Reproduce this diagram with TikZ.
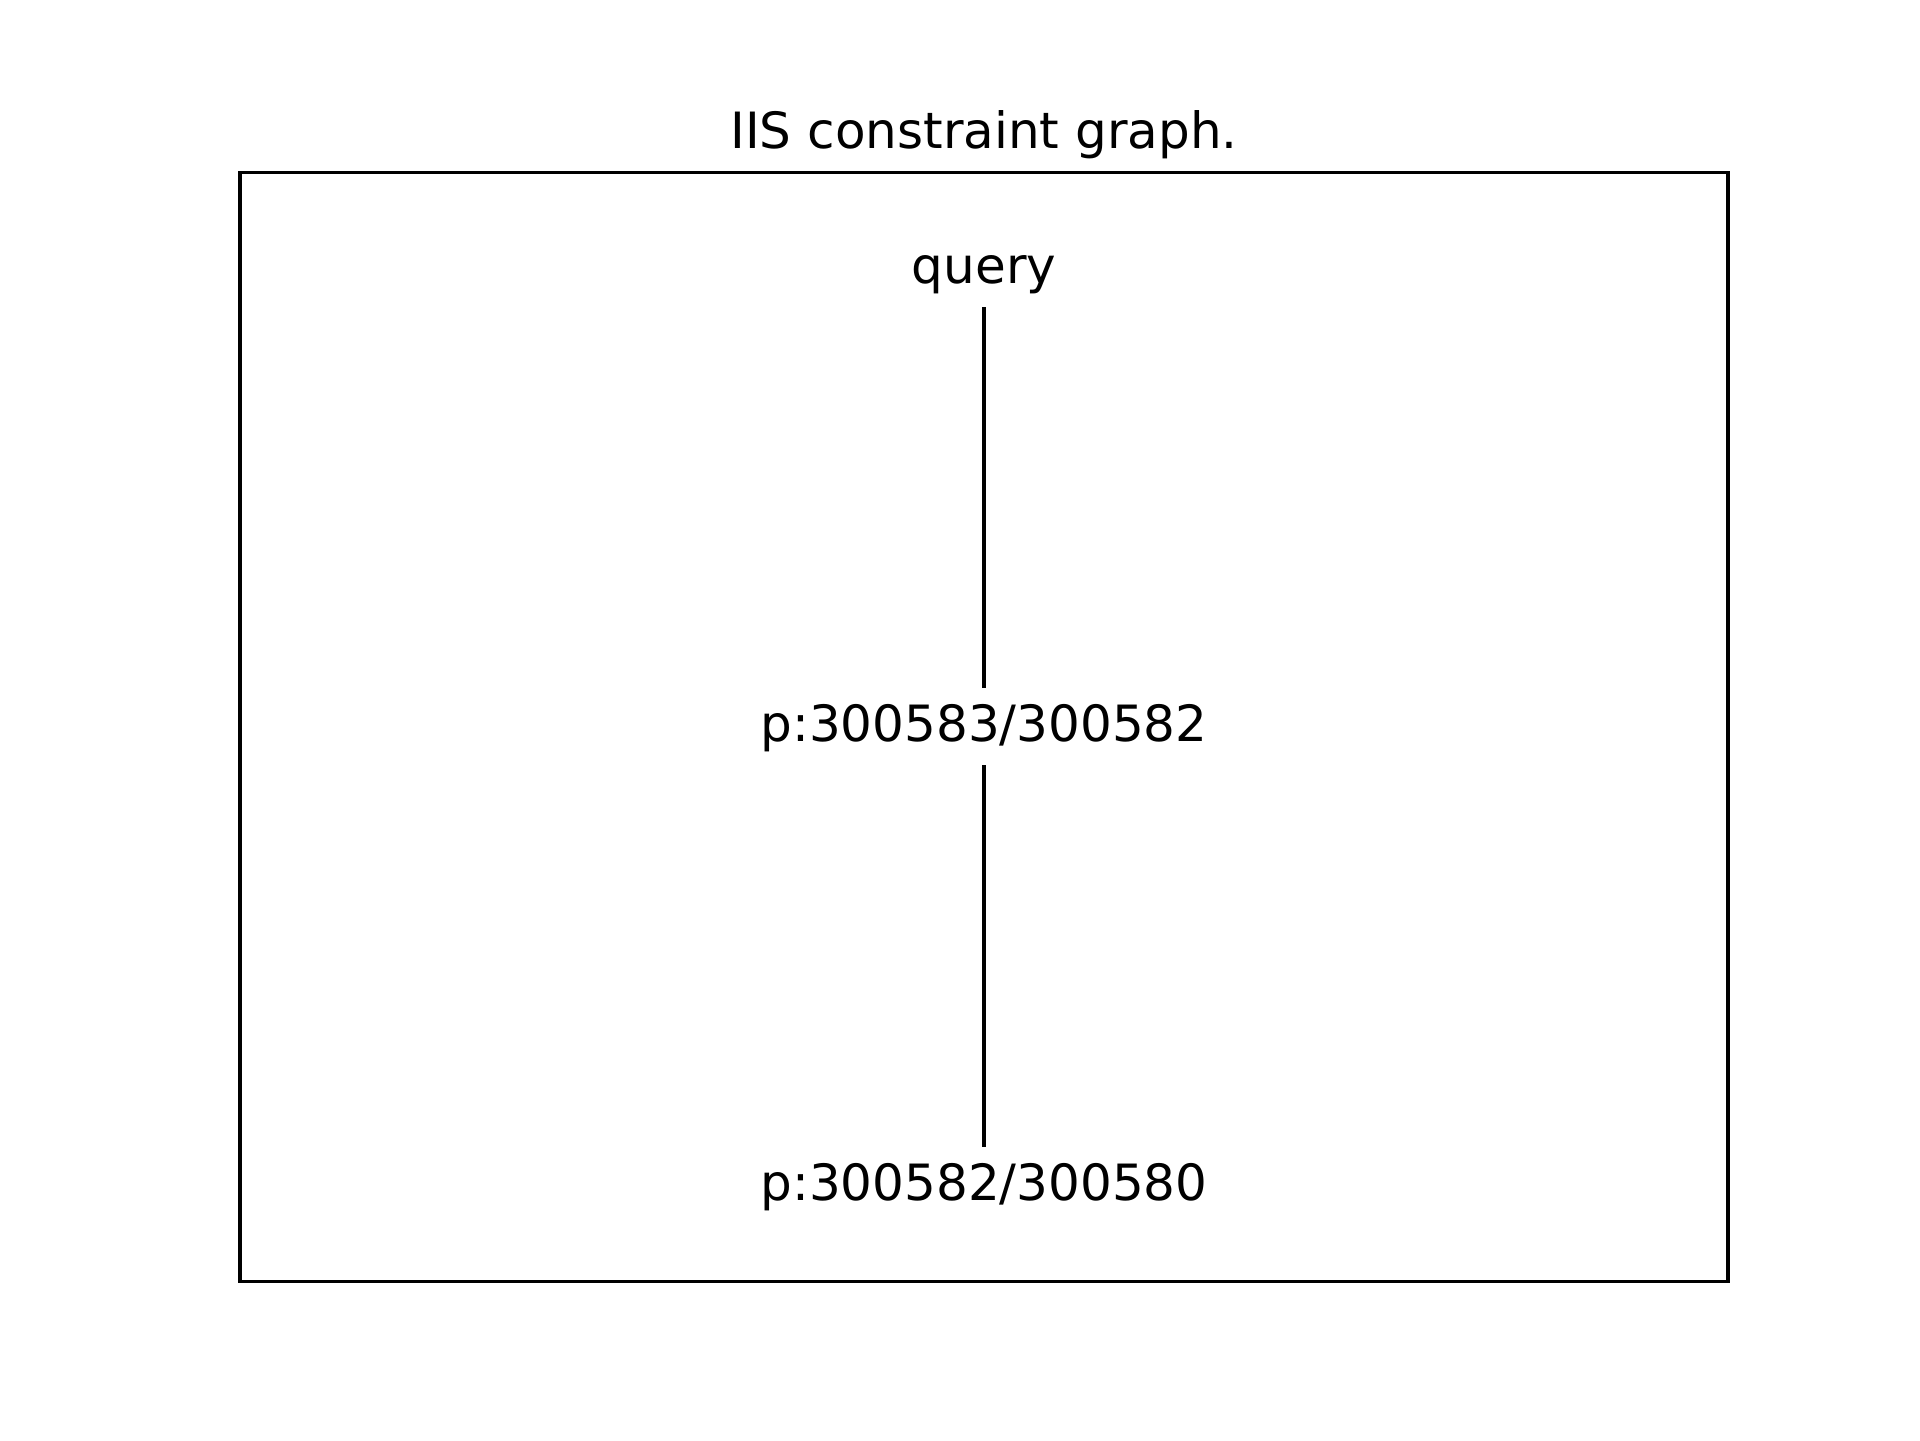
\documentclass[tikz,border=0pt]{standalone}
\usepackage{fontspec}
\setmainfont{DejaVu Sans}
\begin{document}
\begin{tikzpicture}[x=0.24pt,y=-0.24pt,
  lbl/.style={anchor=base,inner sep=0pt,font=\fontsize{12pt}{14pt}\selectfont},
  edge/.style={line width=1pt,black},
  frame/.style={line width=0.8pt,black,line join=miter}]
  \useasboundingbox[fill=white] (0,0) rectangle (1920,1440);
  % axes frame
  \draw[frame] (240,172.8) rectangle (1728,1281.6);
  % title
  \node[lbl] (title) at (984,148) {IIS constraint graph.};
  % graph nodes
  \node[lbl] (query) at (984,283) {query};
  \node[lbl] (p1) at (984,741.7) {p:300583/300582};
  \node[lbl] (p2) at (984,1200) {p:300582/300580};
  % edges
  \draw[edge] ([yshift=-5.76pt]query.base) -- ([yshift=12.9pt]p1.base);
  \draw[edge] ([yshift=-5.6pt]p1.base) -- ([yshift=12.8pt]p2.base);
\end{tikzpicture}
\end{document}
